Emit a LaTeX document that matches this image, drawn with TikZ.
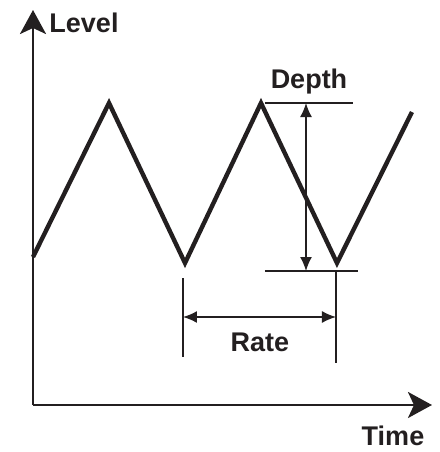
\documentclass[tikz,border=0pt]{standalone}
\usepackage{fontspec}
\setmainfont{Liberation Sans}
\usetikzlibrary{arrows.meta}
\definecolor{ink}{HTML}{231F20}

\begin{document}
\begin{tikzpicture}[
  x=0.5pt, y=-0.5pt, color=ink,
  lbl/.style={font=\fontsize{13.5}{16}\selectfont\bfseries, inner sep=0pt},
  axis/.style={line width=1.3pt, -{Stealth[length=12pt, width=13pt, inset=3pt]}},
  wave/.style={line width=2.2pt, line join=miter},
  guide/.style={line width=0.8pt},
  dim/.style={line width=0.8pt, {Latex[length=7pt, width=6pt]}-{Latex[length=7pt, width=6pt]}}
]
  \useasboundingbox (0,0) rectangle (440,452);

  % Axes
  \coordinate (o) at (33,405);
  \coordinate (ytip) at (33,10);
  \coordinate (xtip) at (432,405);
  \draw[axis] (o) -- (ytip);
  \draw[axis] (o) -- (xtip);
  \node[lbl] (level) at (84,23) {Level};
  \node[lbl] (time) at (393,436) {Time};

  % Triangle wave
  \coordinate (w0) at (33,257);
  \coordinate (w1) at (109,103);
  \coordinate (w2) at (185,263);
  \coordinate (w3) at (261,103);
  \coordinate (w4) at (337,263);
  \coordinate (w5) at (412,112);
  \draw[wave] (w0) -- (w1) -- (w2) -- (w3) -- (w4) -- (w5);

  % Depth
  \coordinate (dtl) at (265,103);
  \coordinate (dtr) at (353,103);
  \coordinate (dbl) at (265,271);
  \coordinate (dbr) at (358,271);
  \coordinate (dtop) at (306,103);
  \coordinate (dbot) at (306,271);
  \draw[guide] (dtl) -- (dtr);
  \draw[guide] (dbl) -- (dbr);
  \draw[dim] (dtop) -- (dbot);
  \node[lbl] (depth) at (309,82) {Depth};

  % Rate
  \coordinate (rlt) at (183,278);
  \coordinate (rlb) at (183,357);
  \coordinate (rrt) at (336,272);
  \coordinate (rrb) at (336,363);
  \coordinate (rl) at (183,317);
  \coordinate (rr) at (336,317);
  \draw[guide] (rlt) -- (rlb);
  \draw[guide] (rrt) -- (rrb);
  \draw[dim] (rl) -- (rr);
  \node[lbl] (rate) at (260,342) {Rate};
\end{tikzpicture}
\end{document}
